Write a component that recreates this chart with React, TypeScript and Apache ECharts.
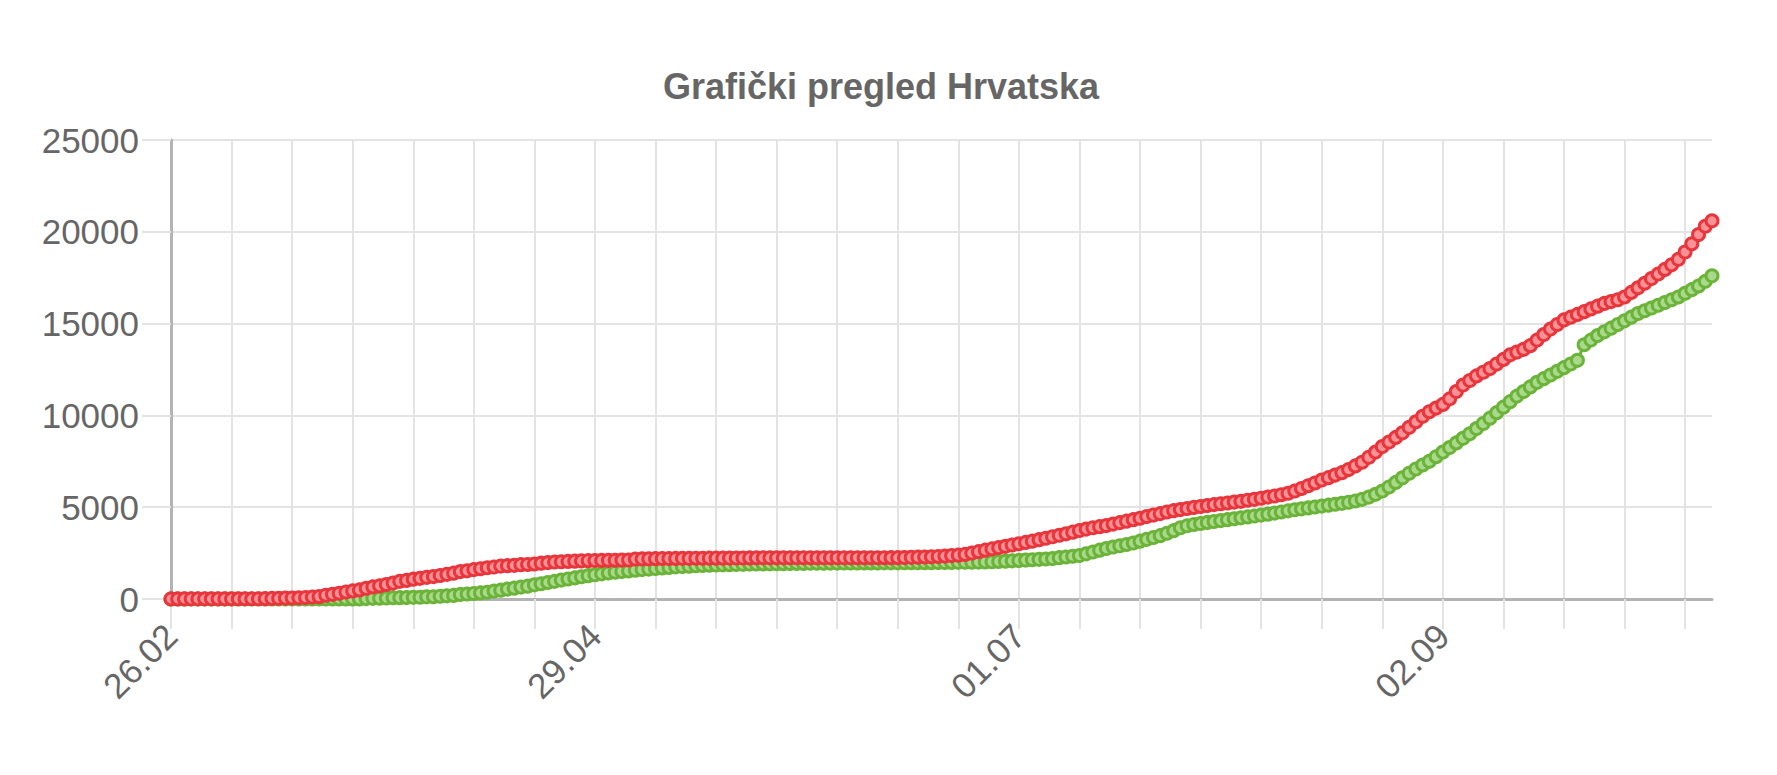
import React, { useEffect, useRef } from "react";
import * as echarts from "echarts";

const TITLE = "Grafički pregled Hrvatska";
const START_DAY = Date.UTC(2020, 1, 26);
const DAY_COUNT = 230;

const pad = (n: number) => (n < 10 ? "0" + n : "" + n);
const dates: string[] = [];
for (let i = 0; i < DAY_COUNT; i++) {
  const d = new Date(START_DAY + i * 86400000);
  dates.push(pad(d.getUTCDate()) + "." + pad(d.getUTCMonth() + 1));
}

// red series (confirmed cases)
const cases: number[] = [
  3, 3, 5, 7, 7, 7, 9, 10, 10, 11,
  12, 12, 12, 14, 19, 32, 38, 49, 57, 65,
  81, 105, 128, 206, 254, 315, 382, 442, 495, 586,
  657, 713, 790, 867, 963, 1011, 1079, 1126, 1182, 1222,
  1282, 1343, 1407, 1495, 1534, 1600, 1650, 1704, 1741, 1791,
  1814, 1832, 1871, 1881, 1908, 1950, 1981, 2016, 2030, 2047,
  2062, 2076, 2088, 2096, 2101, 2107, 2112, 2119, 2125, 2176,
  2182, 2187, 2196, 2205, 2207, 2209, 2213, 2213, 2221, 2222,
  2224, 2226, 2226, 2228, 2232, 2234, 2237, 2243, 2243, 2244,
  2244, 2244, 2245, 2245, 2246, 2246, 2246, 2247, 2247, 2247,
  2247, 2247, 2247, 2247, 2249, 2249, 2249, 2250, 2252, 2258,
  2269, 2280, 2289, 2299, 2317, 2336, 2366, 2388, 2430, 2500,
  2580, 2660, 2730, 2800, 2870, 2940, 3010, 3080, 3150, 3230,
  3310, 3390, 3470, 3550, 3640, 3730, 3810, 3880, 3940, 4000,
  4080, 4160, 4240, 4320, 4400, 4490, 4570, 4650, 4740, 4810,
  4870, 4930, 4990, 5040, 5090, 5140, 5190, 5230, 5280, 5320,
  5380, 5430, 5490, 5550, 5610, 5680, 5760, 5880, 6020, 6170,
  6320, 6480, 6610, 6750, 6880, 7050, 7250, 7450, 7720, 8000,
  8300, 8550, 8800, 9050, 9350, 9650, 9950, 10200, 10400, 10600,
  10900, 11300, 11650, 11900, 12150, 12350, 12550, 12800, 13050, 13300,
  13450, 13600, 13800, 14100, 14400, 14700, 14950, 15200, 15350, 15500,
  15650, 15800, 15950, 16100, 16200, 16300, 16450, 16700, 16950, 17200,
  17450, 17700, 17950, 18200, 18500, 18900, 19350, 19850, 20300, 20600,
];

// green series (recovered)
const recovered: number[] = [
  0, 0, 0, 0, 0, 0, 0, 0, 0, 0,
  0, 0, 0, 0, 0, 1, 1, 1, 1, 1,
  1, 1, 1, 5, 5, 5, 5, 5, 5, 22,
  36, 45, 52, 67, 73, 79, 89, 97, 117, 125,
  152, 173, 196, 249, 271, 299, 330, 370, 430, 480,
  540, 590, 650, 700, 770, 830, 900, 960, 1030, 1090,
  1150, 1210, 1270, 1320, 1370, 1420, 1460, 1500, 1530, 1570,
  1600, 1630, 1660, 1690, 1720, 1750, 1770, 1790, 1810, 1830,
  1840, 1850, 1860, 1870, 1880, 1890, 1900, 1905, 1910, 1915,
  1920, 1925, 1930, 1935, 1940, 1945, 1950, 1950, 1955, 1955,
  1960, 1960, 1960, 1965, 1965, 1965, 1970, 1970, 1970, 1975,
  1975, 1975, 1980, 1980, 1985, 1985, 1990, 1995, 2000, 2005,
  2010, 2020, 2030, 2045, 2060, 2080, 2100, 2120, 2140, 2160,
  2180, 2200, 2250, 2290, 2330, 2370, 2460, 2560, 2660, 2750,
  2830, 2900, 2970, 3050, 3150, 3250, 3350, 3450, 3580, 3720,
  3880, 3990, 4060, 4110, 4170, 4220, 4270, 4320, 4370, 4420,
  4470, 4520, 4570, 4620, 4680, 4740, 4800, 4860, 4910, 4960,
  5010, 5060, 5110, 5160, 5210, 5270, 5340, 5430, 5550, 5700,
  5880, 6100, 6350, 6600, 6850, 7080, 7300, 7500, 7750, 8000,
  8250, 8500, 8750, 9000, 9280, 9560, 9850, 10150, 10450, 10750,
  11050, 11300, 11550, 11800, 12000, 12200, 12400, 12600, 12800, 13000,
  13850, 14100, 14350, 14550, 14750, 14950, 15150, 15350, 15550, 15700,
  15850, 16000, 16150, 16300, 16450, 16650, 16850, 17050, 17300, 17600,
];

const Y_TICKS = { min: 0, max: 25000, step: 5000 };
const GRID_EVERY = 9;
const LABEL_EVERY = 63;

const FONT = "'Liberation Sans', Arial, Helvetica, sans-serif";
const GRID_COLOR = "#e3e3e3";
const AXIS_COLOR = "#b3b3b3";
const TEXT_COLOR = "#666666";

export default function App() {
  const ref = useRef<HTMLDivElement | null>(null);

  useEffect(() => {
    if (!ref.current) return;
    const chart = echarts.init(ref.current, undefined, { renderer: "svg" });
    const pointSeries = (name: string, data: number[], stroke: string, fill: string) => ({
      name,
      type: "line",
      data,
      symbol: "circle",
      symbolSize: 12,
      showSymbol: true,
      showAllSymbol: true,
      lineStyle: { color: stroke, width: 3 },
      itemStyle: { color: fill, borderColor: stroke, borderWidth: 3 },
      emphasis: { disabled: true },
    });
    chart.setOption({
      animation: false,
      backgroundColor: "#ffffff",
      textStyle: { fontFamily: FONT },
      title: {
        text: TITLE,
        left: 876,
        textAlign: "center",
        top: 63,
        textStyle: { fontFamily: FONT, fontSize: 36, fontWeight: "bold", color: TEXT_COLOR },
      },
      grid: { left: 171, right: 65, top: 140, bottom: 176, containLabel: false },
      xAxis: {
        type: "category",
        data: dates,
        boundaryGap: false,
        axisLine: { show: true, lineStyle: { color: AXIS_COLOR, width: 3 } },
        axisTick: {
          show: true,
          interval: (i: number) => i % GRID_EVERY === 0,
          length: 30,
          lineStyle: { color: GRID_COLOR, width: 2 },
        },
        axisLabel: {
          interval: (i: number) => i % LABEL_EVERY === 0,
          rotate: 45,
          margin: 31,
          fontSize: 35,
          color: TEXT_COLOR,
          fontFamily: FONT,
        },
        splitLine: {
          show: true,
          interval: (i: number) => i % GRID_EVERY === 0,
          lineStyle: { color: GRID_COLOR, width: 2 },
        },
      },
      yAxis: {
        type: "value",
        min: Y_TICKS.min,
        max: Y_TICKS.max,
        interval: Y_TICKS.step,
        axisLine: { show: true, lineStyle: { color: AXIS_COLOR, width: 3 } },
        axisTick: { show: true, length: 29, lineStyle: { color: GRID_COLOR, width: 2 } },
        axisLabel: {
          margin: 32,
          fontSize: 35,
          color: TEXT_COLOR,
          fontFamily: FONT,
          formatter: (v: number) => String(v),
        },
        splitLine: { show: true, lineStyle: { color: GRID_COLOR, width: 2 } },
      },
      series: [
        pointSeries("Izliječeni", recovered, "#6cb33a", "#a9d98a"),
        pointSeries("Zaraženi", cases, "#e8363c", "#fb9296"),
      ],
    });
    return () => chart.dispose();
  }, []);

  return (
    <div
      ref={ref}
      style={{ position: "fixed", left: 0, top: 0, width: 1777, height: 775, background: "#fff" }}
    />
  );
}
